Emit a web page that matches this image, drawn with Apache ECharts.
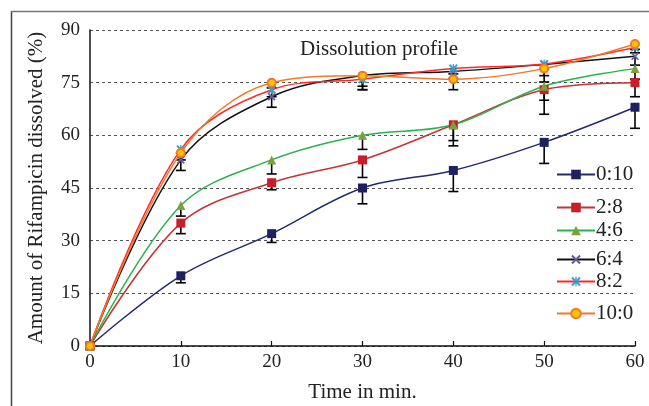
<!DOCTYPE html>
<html><head><meta charset="utf-8">
<script src="https://cdn.jsdelivr.net/npm/echarts@6/dist/echarts.min.js"></script>
<style>html,body{margin:0;padding:0;background:#fff}#c{width:649px;height:406px}</style>
</head><body><div id="c"></div>
<script>
var times = [0, 10, 20, 30, 40, 50, 60];
var yTicks = [0, 15, 30, 45, 60, 75, 90];
var names = ['0:10', '2:8', '4:6', '6:4', '8:2', '10:0'];
var s0_10 = [0, 20, 32, 45, 50, 58, 68];
var s2_8  = [0, 35, 46.5, 53, 63, 73, 75];
var s4_6  = [0, 40, 53, 60, 63, 74, 79];
var s6_4  = [0, 53, 71, 77, 78.2, 80.2, 82.5];
var s8_2  = [0, 56, 73, 76, 79, 80.3, 85];
var s10_0 = [0, 55, 75, 77, 76, 79, 86];
var e0_10 = [0, 2, 2.5, 4.5, 6, 6, 6];
var e2_8  = [0, 3, 2, 5, 6, 7, 4];
var e4_6  = [0, 3, 4, 4, 4.5, 4, 3];
var e6_4  = [0, 3, 3, 4, 2, 5, 2.5];
var e8_2  = [0, 1, 2, 2, 1.5, 1.5, 1.5];
var e10_0 = [0, 2, 1.5, 4, 3, 2, 1.5];

var values = [s0_10, s2_8, s4_6, s6_4, s8_2, s10_0];
var errors = [e0_10, e2_8, e4_6, e6_4, e8_2, e10_0];
var xMark = 'path://M0,1.5L1.5,0L5,3.5L8.5,0L10,1.5L6.5,5L10,8.5L8.5,10L5,6.5L1.5,10L0,8.5L3.5,5Z';
var starMark = 'path://M0,1.5L1.5,0L4.3,2.8L4.3,0L5.7,0L5.7,2.8L8.5,0L10,1.5L6.5,5L10,8.5L8.5,10L5.7,7.2L5.7,10L4.3,10L4.3,7.2L1.5,10L0,8.5L3.5,5Z';
var styles = [
  {line: '#232a6e', symbol: 'rect', size: 9, fill: '#1f2060', border: '#1f2060', bw: 0},
  {line: '#c83236', symbol: 'rect', size: 9, fill: '#c81e28', border: '#c81e28', bw: 0},
  {line: '#2bb24c', symbol: 'triangle', size: 9, fill: '#7aa23c', border: '#7aa23c', bw: 0},
  {line: '#111111', symbol: xMark, size: 8, fill: '#6b5b9b', border: '#6b5b9b', bw: 0},
  {line: '#ff2a2a', symbol: starMark, size: 9, fill: '#3a9fc8', border: '#3a9fc8', bw: 0},
  {line: '#f07a28', symbol: 'circle', size: 8, fill: '#ffc000', border: '#f07a28', bw: 2}
];
var legendCenters = [172, 205, 228, 257, 279, 311];
var serif = 'Liberation Serif';

var series = [];
var errData = [];
values.forEach(function (vals, i) {
  var st = styles[i];
  series.push({
    name: names[i], type: 'line', smooth: 0.35, z: 3,
    data: vals.map(function (v, k) { return [times[k], v]; }),
    symbol: st.symbol, symbolSize: st.size, showSymbol: true,
    lineStyle: {color: st.line, width: 1.5},
    itemStyle: {color: st.fill, borderColor: st.border, borderWidth: st.bw},
    emphasis: {disabled: true}
  });
  vals.forEach(function (v, k) { if (errors[i][k] > 0) errData.push([times[k], v, errors[i][k]]); });
});
series.push({
  type: 'custom', z: 2, silent: true,
  data: errData,
  encode: {x: 0, y: 1},
  renderItem: function (params, api) {
    var top = api.coord([api.value(0), api.value(1)]);
    var bot = api.coord([api.value(0), api.value(1) - api.value(2)]);
    var st = {stroke: '#000', lineWidth: 1.6};
    return {type: 'group', children: [
      {type: 'line', shape: {x1: top[0], y1: top[1], x2: bot[0], y2: bot[1]}, style: st},
      {type: 'line', shape: {x1: bot[0] - 5, y1: bot[1], x2: bot[0] + 5, y2: bot[1]}, style: st}
    ]};
  }
});

var legends = names.map(function (n, i) {
  return {
    data: [n], orient: 'vertical', left: 551, top: legendCenters[i] - 13,
    itemWidth: 38, itemHeight: 12, itemGap: 0, selectedMode: false,
    textStyle: {fontFamily: serif, fontSize: 21, color: '#222', padding: [0, 0, 0, -4]}
  };
});

var chart = echarts.init(document.getElementById('c'), null, {renderer: 'canvas'});
chart.setOption({
  animation: false,
  backgroundColor: '#fff',
  title: {text: 'Dissolution profile', left: 374, top: 34, textAlign: 'center',
    textStyle: {fontFamily: serif, fontSize: 21, fontWeight: 'normal', color: '#222'}},
  legend: legends,
  grid: {left: 90, right: 14, top: 30, bottom: 60, containLabel: false, outerBoundsMode: 'none'},
  xAxis: {
    type: 'value', min: 0, max: 60, interval: 10,
    name: 'Time in min.', nameLocation: 'middle', nameGap: 36,
    nameTextStyle: {fontFamily: serif, fontSize: 21, color: '#222'},
    axisLine: {lineStyle: {color: '#111', width: 1.5}},
    axisTick: {inside: true, length: 5, lineStyle: {color: '#111', width: 1.2}},
    axisLabel: {fontFamily: serif, fontSize: 19, color: '#222', margin: 7},
    splitLine: {show: false}
  },
  yAxis: {
    type: 'value', min: 0, max: 90, interval: 15,
    name: 'Amount of Rifampicin dissolved (%)', nameLocation: 'middle', nameGap: 43,
    nameTextStyle: {fontFamily: serif, fontSize: 21, color: '#222'},
    axisLine: {show: true, lineStyle: {color: '#111', width: 1.5}},
    axisTick: {show: false},
    axisLabel: {fontFamily: serif, fontSize: 19, color: '#222', margin: 10,
      formatter: function (v) { return yTicks.indexOf(v) >= 0 ? String(v) : ''; }},
    splitLine: {show: true, lineStyle: {color: '#555', type: [3, 3], width: 1}}
  },
  graphic: [
    {type: 'line', shape: {x1: 11.5, y1: 11, x2: 11.5, y2: 406}, style: {stroke: '#444', lineWidth: 1.5}, silent: true},
    {type: 'line', shape: {x1: 11, y1: 11.5, x2: 649, y2: 11.5}, style: {stroke: '#777', lineWidth: 1.5}, silent: true}
  ],
  series: series
});
</script>
</body></html>
